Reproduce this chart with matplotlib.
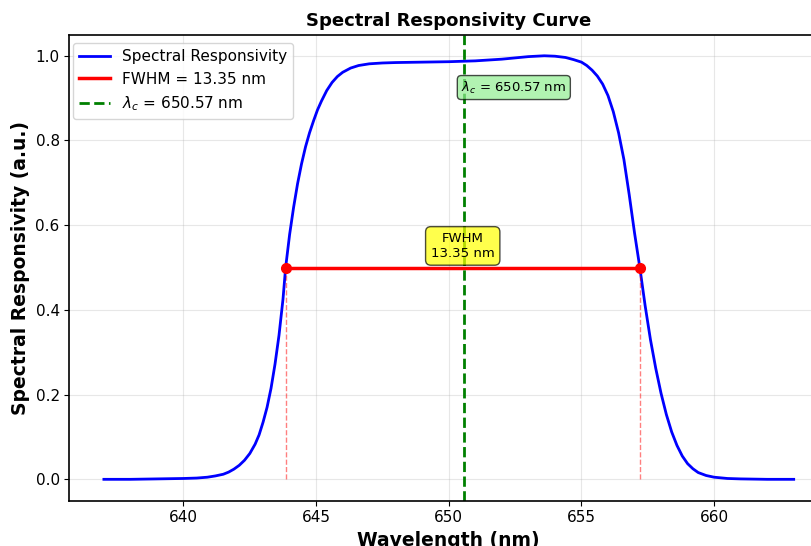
import matplotlib
matplotlib.use("Agg")
import matplotlib.pyplot as plt

# ---- data ----
wavelength = [637.0, 638.0, 639.0, 640.0, 640.5, 640.9, 641.2, 641.5, 641.7, 641.9,
              642.1, 642.3, 642.5, 642.7, 642.85, 643.0, 643.15, 643.3, 643.45, 643.6,
              643.75, 643.85, 644.0, 644.15, 644.3, 644.45, 644.6, 644.75, 644.9, 645.05,
              645.2, 645.4, 645.6, 645.8, 646.0, 646.3, 646.6, 647.0, 647.5, 648.0,
              649.0, 650.0, 651.0, 652.0, 652.5, 653.0, 653.6, 654.0, 654.4, 654.7,
              655.0, 655.2, 655.4, 655.6, 655.8, 656.0, 656.2, 656.4, 656.6, 656.8,
              657.0, 657.2, 657.4, 657.6, 657.8, 658.0, 658.2, 658.4, 658.6, 658.8,
              659.0, 659.2, 659.4, 659.7, 660.0, 660.5, 661.0, 662.0, 663.0]
responsivity = [0.000, 0.000, 0.001, 0.002, 0.003, 0.005, 0.008, 0.012, 0.017, 0.024,
                0.033, 0.045, 0.061, 0.083, 0.105, 0.135, 0.170, 0.215, 0.272, 0.340,
                0.425, 0.500, 0.578, 0.642, 0.698, 0.745, 0.785, 0.818, 0.846, 0.872,
                0.893, 0.918, 0.937, 0.951, 0.961, 0.971, 0.977, 0.981, 0.983, 0.984,
                0.985, 0.986, 0.988, 0.992, 0.995, 0.998, 1.000, 0.999, 0.996, 0.991,
                0.985, 0.977, 0.966, 0.952, 0.933, 0.906, 0.868, 0.818, 0.755, 0.672,
                0.582, 0.500, 0.410, 0.330, 0.262, 0.203, 0.153, 0.112, 0.080, 0.055,
                0.037, 0.025, 0.016, 0.009, 0.005, 0.002, 0.001, 0.000, 0.000]
fwhm_left = 643.85
fwhm_right = 657.20
half_max = 0.5
fwhm = 13.35
lambda_c = 650.57

fig = plt.figure(figsize=(8.12, 5.46), dpi=100)
ax = fig.add_axes([69.4 / 812, 45.5 / 546, 758.8 / 812, 465.9 / 546])

ax.plot(wavelength, responsivity, color="blue", linewidth=2, label="Spectral Responsivity",
        solid_joinstyle="round")
ax.plot([fwhm_left, fwhm_right], [half_max, half_max], color="red", linewidth=2.5,
        label=f"FWHM = {fwhm:.2f} nm")
ax.plot([fwhm_left, fwhm_right], [half_max, half_max], "o", color="red", markersize=7)
ax.plot([fwhm_left, fwhm_left], [0, half_max], color="red", linestyle="--", linewidth=1, alpha=0.5)
ax.plot([fwhm_right, fwhm_right], [0, half_max], color="red", linestyle="--", linewidth=1, alpha=0.5)
ax.axvline(lambda_c, color="green", linestyle="--", linewidth=2,
           label=rf"$\lambda_c$ = {lambda_c:.2f} nm")

ax.text((fwhm_left + fwhm_right) / 2, half_max + 0.018, f"FWHM\n{fwhm:.2f} nm",
        ha="center", va="bottom", fontsize=9.5,
        bbox=dict(boxstyle="round,pad=0.4", facecolor="yellow", alpha=0.7))
ax.text(lambda_c - 0.1, 0.925, rf"$\lambda_c$ = {lambda_c:.2f} nm",
        ha="left", va="center", fontsize=9.5,
        bbox=dict(boxstyle="round,pad=0.3", facecolor="lightgreen", alpha=0.7))

ax.set_xlim(635.7, 664.3)
ax.set_ylim(-0.05, 1.05)
ax.set_xticks([640, 645, 650, 655, 660])
ax.set_yticks([0.0, 0.2, 0.4, 0.6, 0.8, 1.0])
ax.tick_params(labelsize=11)
ax.grid(True, alpha=0.3)
for s in ax.spines.values():
    s.set_linewidth(1.2)

ax.set_xlabel("Wavelength (nm)", fontsize=13.5, fontweight="bold")
ax.set_ylabel("Spectral Responsivity (a.u.)", fontsize=13.5, fontweight="bold")
ax.set_title("Spectral Responsivity Curve", fontsize=13, fontweight="bold")
ax.legend(loc="upper left", fontsize=11, borderaxespad=0,
          bbox_to_anchor=(0.005, 0.982))

fig.savefig("out.png", dpi=100)
